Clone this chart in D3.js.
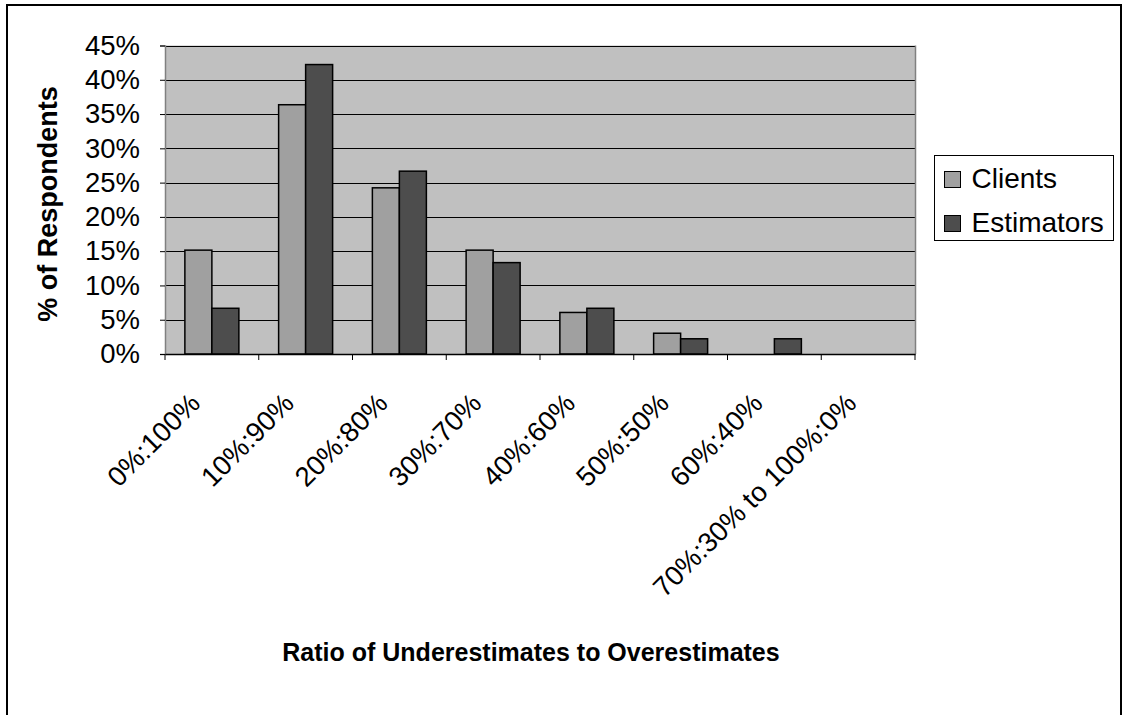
<!DOCTYPE html>
<html>
<head>
<meta charset="utf-8">
<script src="https://cdn.jsdelivr.net/npm/d3@7/dist/d3.min.js"></script>
<style>
  html, body { margin: 0; padding: 0; background: #fff; }
  svg { display: block; font-family: Arial, "Liberation Sans", sans-serif; }
</style>
</head>
<body>
<svg id="chart" width="1123" height="715"></svg>
<script>
const categories = ["0%:100%", "10%:90%", "20%:80%", "30%:70%", "40%:60%", "50%:50%", "60%:40%", "70%:30% to 100%:0%"];
const seriesNames = ["Clients", "Estimators"];
const clients = [15.15, 36.36, 24.24, 15.15, 6.06, 3.03, 0, 0];
const estimators = [6.67, 42.22, 26.67, 13.33, 6.67, 2.22, 2.22, 0];
const yTicks = [0, 5, 10, 15, 20, 25, 30, 35, 40, 45];
const colors = ["#A0A0A0", "#4D4D4D"];

const svg = d3.select("#chart");
const W = 1123, H = 715;
const plot = { left: 165, right: 915, top: 45.5, bottom: 354 };

// outer frame
svg.append("rect").attr("x", 7).attr("y", 5).attr("width", W - 9).attr("height", H + 10)
  .attr("fill", "#fff").attr("stroke", "#000").attr("stroke-width", 2);

const x = d3.scaleBand().domain(categories).range([plot.left, plot.right]).padding(0);
const y = d3.scaleLinear().domain([0, 45]).range([plot.bottom, plot.top]);
const groupW = 54;
const inner = d3.scaleBand().domain(seriesNames)
  .range([(x.bandwidth() - groupW) / 2, (x.bandwidth() + groupW) / 2]).padding(0);

// plot background
svg.append("rect").attr("x", plot.left).attr("y", plot.top)
  .attr("width", plot.right - plot.left).attr("height", plot.bottom - plot.top)
  .attr("fill", "#C0C0C0");

// gridlines
svg.append("g").selectAll("line").data(yTicks.filter(d => d > 0)).join("line")
  .attr("x1", plot.left).attr("x2", plot.right)
  .attr("y1", d => Math.round(y(d)) + 0.5).attr("y2", d => Math.round(y(d)) + 0.5)
  .attr("stroke", "#000").attr("stroke-width", 1);

// right border of plot (gray)
svg.append("line").attr("x1", plot.right + 0.5).attr("x2", plot.right + 0.5)
  .attr("y1", plot.top).attr("y2", plot.bottom).attr("stroke", "#808080").attr("stroke-width", 1.5);

// bars
const data = categories.map((c, i) => ({ cat: c, vals: [clients[i], estimators[i]] }));
const groups = svg.append("g").selectAll("g").data(data).join("g")
  .attr("transform", d => `translate(${x(d.cat)},0)`);
groups.selectAll("rect").data(d => d.vals.map((v, j) => ({ name: seriesNames[j], v, j })).filter(e => e.v > 0))
  .join("rect")
  .attr("x", e => inner(e.name))
  .attr("width", inner.bandwidth())
  .attr("y", e => y(e.v))
  .attr("height", e => y(0) - y(e.v))
  .attr("fill", e => colors[e.j])
  .attr("stroke", "#000").attr("stroke-width", 1.5);

// y axis
const yAxis = d3.axisLeft(y).tickValues(yTicks).tickSize(5).tickPadding(20).tickFormat(d => d + "%");
const gy = svg.append("g").attr("transform", `translate(${plot.left},0)`).call(yAxis);
gy.select(".domain").attr("stroke", "#808080").attr("stroke-width", 1.5);
gy.selectAll(".tick line").attr("stroke", "#000");
gy.selectAll("text").attr("font-size", 27.5).attr("fill", "#000")
  .attr("font-family", "Arial, 'Liberation Sans', sans-serif");

// x axis
const xAxis = d3.axisBottom(x).tickSize(0).tickFormat("");
const gx = svg.append("g").attr("transform", `translate(0,${plot.bottom})`).call(xAxis);
gx.select(".domain").attr("stroke", "#000").attr("stroke-width", 1.5);
const bounds = categories.map(c => x(c)).concat([plot.right]);
gx.selectAll("line.bt").data(bounds).join("line").attr("class", "bt")
  .attr("x1", d => d).attr("x2", d => d).attr("y1", 0).attr("y2", 6)
  .attr("stroke", "#000").attr("stroke-width", 1);

// x labels rotated
const xlf = 27.5;
svg.append("g").selectAll("text").data(categories).join("text")
  .attr("transform", d => `translate(${x(d) + x.bandwidth() / 2 - 10 - 0.72 * xlf * 0.707},${plot.bottom + 37}) rotate(-45)`)
  .attr("text-anchor", "end")
  .attr("dy", "0.72em")
  .attr("font-size", xlf)
  .attr("fill", "#000")
  .text(d => d);

// axis titles
svg.append("text").attr("x", 531).attr("y", 661).attr("text-anchor", "middle")
  .attr("font-size", 25).attr("font-weight", "bold").text("Ratio of Underestimates to Overestimates");
svg.append("text").attr("transform", `translate(57,204) rotate(-90)`)
  .attr("text-anchor", "middle").attr("font-size", 27).attr("font-weight", "bold").text("% of Respondents");

// legend
const lg = svg.append("g");
lg.append("rect").attr("x", 934.5).attr("y", 155.5).attr("width", 179).attr("height", 85)
  .attr("fill", "#fff").attr("stroke", "#000").attr("stroke-width", 1);
const items = lg.selectAll("g.item").data(seriesNames).join("g").attr("class", "item")
  .attr("transform", (d, i) => `translate(944.5,${171.5 + i * 44})`);
items.append("rect").attr("width", 16).attr("height", 16)
  .attr("fill", (d, i) => colors[i]).attr("stroke", "#000").attr("stroke-width", 1);
items.append("text").attr("x", 27).attr("y", 16).attr("font-size", 28).attr("fill", "#000").text(d => d);
</script>
</body>
</html>
